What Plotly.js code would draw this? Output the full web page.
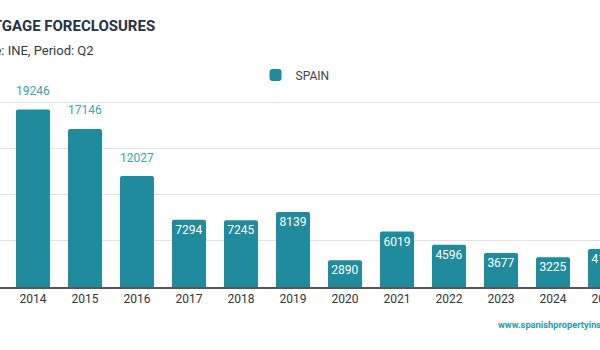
<!DOCTYPE html>
<html>
<head>
<meta charset="utf-8">
<script src="https://cdn.plot.ly/plotly-3.0.1.min.js"></script>
<style>
  html, body { margin: 0; padding: 0; overflow: hidden; background: #fff; width: 600px; height: 350px; }
  #chart { position: absolute; left: -60px; top: 0; width: 720px; height: 350px; }
</style>
</head>
<body>
<div id="chart"></div>
<script>
const years = ['2014', '2015', '2016', '2017', '2018', '2019', '2020', '2021', '2022', '2023', '2024', '2025'];
const foreclosures = [19246, 17146, 12027, 7294, 7245, 8139, 2890, 6019, 4596, 3677, 3225, 4113];
const seriesName = 'SPAIN';
const titleText = 'MORTGAGE FORECLOSURES';
const subtitleText = 'Source: INE, Period: Q2';
const footerText = 'www.spanishpropertyinsight.com';

const barColor = '#1f8b9c';
const labelTeal = '#3ba3b3';
const outsideThreshold = 10000;

const insideText = foreclosures.map(v => v > outsideThreshold ? '' : String(v));

const trace = {
  type: 'bar',
  x: years,
  y: foreclosures,
  name: seriesName,
  marker: { color: barColor, cornerradius: 2 },
  text: insideText,
  textposition: 'inside',
  insidetextanchor: 'end',
  textangle: 0,
  textfont: { family: 'Roboto', size: 12, color: '#ffffff' },
  constraintext: 'none',
  hoverinfo: 'x+y',
  cliponaxis: true
};

const annotations = [];
years.forEach((yr, i) => {
  const v = foreclosures[i];
  if (v > outsideThreshold) {
    annotations.push({
      x: i, y: v, xref: 'x', yref: 'y',
      text: String(v), showarrow: false,
      yanchor: 'middle', yshift: 18.5,
      font: { family: 'Roboto', size: 12, color: labelTeal }
    });
  }
});

annotations.push({
  xref: 'paper', yref: 'paper', x: 0.0250, y: 1.380,
  xanchor: 'left', yanchor: 'middle', showarrow: false,
  text: titleText,
  font: { family: 'Roboto', size: 15, weight: 700, color: '#263343' }
});
annotations.push({
  xref: 'paper', yref: 'paper', x: 0.0257, y: 1.25,
  xanchor: 'left', yanchor: 'middle', showarrow: false,
  text: subtitleText,
  font: { family: 'Roboto', size: 13, color: '#333a44' }
});
annotations.push({
  xref: 'paper', yref: 'paper', x: 0.772, y: -0.2,
  xanchor: 'left', yanchor: 'middle', showarrow: false,
  text: footerText,
  font: { family: 'Roboto', size: 9.3, weight: 700, color: '#2a9aa8' }
});

const layout = {
  width: 720,
  height: 350,
  margin: { l: 0, r: 0, t: 98, b: 63, pad: 0 },
  paper_bgcolor: '#ffffff',
  plot_bgcolor: '#ffffff',
  font: { family: 'Roboto', color: '#333' },
  bargap: 0.346,
  showlegend: true,
  legend: {
    orientation: 'h', x: 0.4931, xanchor: 'center', y: 1.122, yanchor: 'middle',
    font: { family: 'Roboto', size: 12, color: '#444' },
    bgcolor: 'rgba(0,0,0,0)'
  },
  xaxis: {
    type: 'category',
    range: [-1.788, 12.058],
    showgrid: false,
    showline: true,
    linecolor: '#555',
    linewidth: 1.5,
    ticks: '',
    tickfont: { family: 'Roboto', size: 12, color: '#333' },
    fixedrange: true
  },
  yaxis: {
    range: [0, 20500],
    dtick: 5000,
    showticklabels: false,
    showgrid: true,
    gridcolor: '#e0e0e0',
    gridwidth: 1,
    zeroline: false,
    showline: false,
    fixedrange: true
  },
  annotations: annotations
};

Plotly.newPlot('chart', [trace], layout, { displayModeBar: false, staticPlot: true });
</script>
</body>
</html>
